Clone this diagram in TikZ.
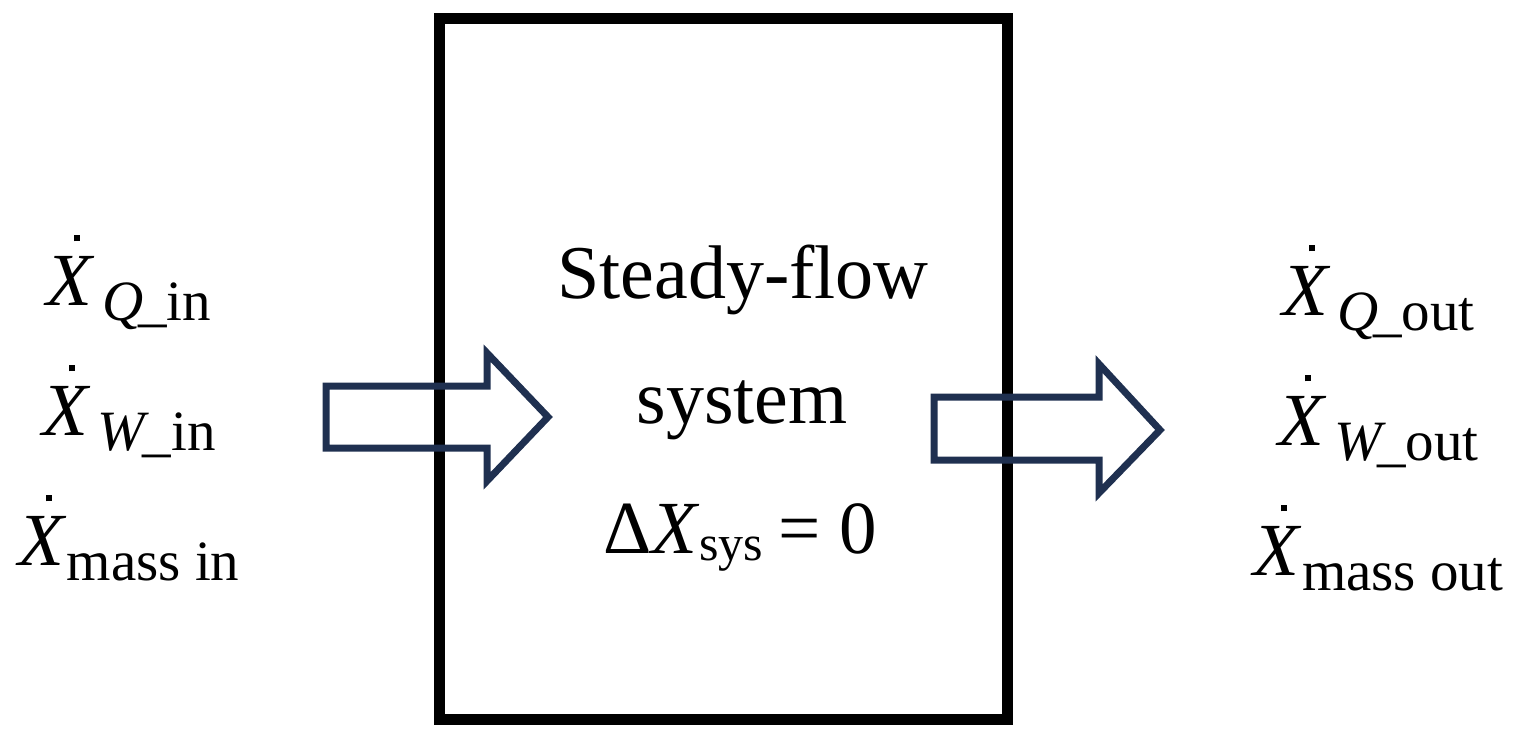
\documentclass[tikz,border=0pt]{standalone}
\usepackage{fontspec}
\setmainfont{Liberation Serif}
\definecolor{navy}{HTML}{1F3050}
\newcommand{\Xdot}{\makebox[0pt][l]{\hspace{0.36em}\rule[0.85em]{0.08em}{0.08em}}\textit{X}}
\newcommand{\subs}[1]{\raisebox{-0.21em}{\fontsize{28.5}{30}\selectfont #1}}
\begin{document}
\begin{tikzpicture}[x=0.5pt,y=-0.5pt,
  lbl/.style={inner sep=0pt, anchor=base, font=\fontsize{37.5}{45}\selectfont},
  ttl/.style={inner sep=0pt, anchor=base, font=\fontsize{38}{45}\selectfont},
  flowarrow/.style={draw=navy, line width=3.5pt, line join=miter, miter limit=10},
  sysbox/.style={draw=black, line width=5.5pt, inner sep=0pt}]
\useasboundingbox (0,0) rectangle (1522,739);
% system box
\node[sysbox, minimum width=284pt, minimum height=350.75pt] (box) at (723.5,368.75) {};
% arrows
\draw[flowarrow] (326,386) -- (487,386) -- (487,353) -- (548,417) -- (487,481) -- (487,448) -- (326,448) -- cycle;
\draw[flowarrow] (934,397) -- (1099,397) -- (1099,364) -- (1160,430) -- (1099,493) -- (1099,460) -- (934,460) -- cycle;
% inputs
\node[lbl] (qin) at (129,305) {\Xdot\kern0.1em\subs{\textit{Q}\kern-0.1em\_in}};
\node[lbl] (win) at (129,435) {\Xdot\kern0.1em\subs{\textit{W}\kern-0.12em\_in}};
\node[lbl] (min) at (129,565) {\Xdot\subs{mass in}};
% outputs
\node[lbl] (qout) at (1378.5,315) {\Xdot\kern0.1em\subs{\textit{Q}\kern-0.1em\_out}};
\node[lbl] (wout) at (1378.5,445) {\Xdot\kern0.1em\subs{\textit{W}\kern-0.15em\_out}};
\node[lbl] (mout) at (1378.5,575) {\Xdot\subs{mass out}};
% system text
\node[ttl] (t1) at (743,298) {Steady-flow};
\node[ttl] (t2) at (742,423) {system};
\node[lbl] (t3) at (740,553) {Δ\textit{X}\raisebox{-0.1em}{\fontsize{25}{25}\selectfont sys}\hspace{0.2em}=\hspace{0.25em}0};
\end{tikzpicture}
\end{document}
